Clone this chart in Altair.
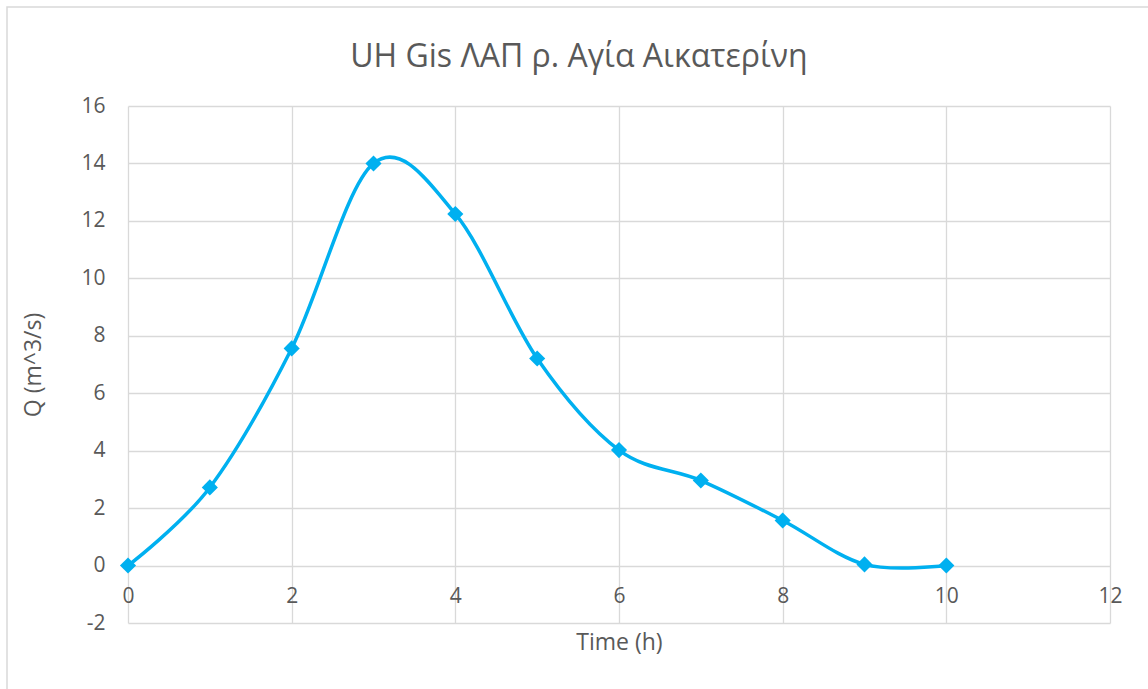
import altair as alt
import pandas as pd

time_h = [0, 1, 2, 3, 4, 5, 6, 7, 8, 9, 10]
q_m3s = [0.0, 2.72, 7.56, 14.0, 12.24, 7.21, 4.02, 2.96, 1.57, 0.04, 0.0]
x_ticks = [0, 2, 4, 6, 8, 10, 12]
y_ticks = [-2, 0, 2, 4, 6, 8, 10, 12, 14, 16]
title_text = "UH Gis ΛΑΠ ρ. Αγία Αικατερίνη"

df = pd.DataFrame({"t": time_h, "q": q_m3s})

FONT = "Open Sans"
TXT = "#595959"
GRID = "#D9D9D9"
BLUE = "#00B0F0"

W, H = 982, 517

x = alt.X("t:Q", scale=alt.Scale(domain=[0, 12], nice=False, zero=False),
          axis=alt.Axis(values=x_ticks, title="Time (h)", grid=True, gridColor=GRID,
                        gridWidth=1.3, domain=False, ticks=False, tickSize=0,
                        labelFlush=False, labelExpr="'' + datum.value",
                        labelPadding=-38, labelFontSize=21, labelColor=TXT, labelFont=FONT,
                        titleFontSize=23, titleColor=TXT, titleFont=FONT,
                        titleFontWeight="normal", titleY=8, titleBaseline="top"))
y = alt.Y("q:Q", scale=alt.Scale(domain=[-2, 16], nice=False, zero=False),
          axis=alt.Axis(values=y_ticks, title="Q (m^3/s)", grid=True, gridColor=GRID,
                        gridWidth=1.3, domain=False, ticks=False, tickSize=0,
                        labelFlush=False, labelExpr="'' + datum.value",
                        labelPadding=23, labelFontSize=21, labelColor=TXT, labelFont=FONT,
                        titleFontSize=23, titleColor=TXT, titleFont=FONT,
                        titleFontWeight="normal", titlePadding=35))

line = alt.Chart(df).mark_line(interpolate="cardinal", color=BLUE, strokeWidth=3.5).encode(x=x, y=y)
pts = alt.Chart(df).mark_point(shape="diamond", filled=True, color=BLUE, size=260, opacity=1).encode(x=x, y=y)

one = pd.DataFrame({"a": [0]})
border = alt.Chart(one).mark_rect(
    fill=None, stroke=GRID, strokeWidth=1.5
).encode(x=alt.value(-121), x2=alt.value(1148 - 128 + 20),
         y=alt.value(-99), y2=alt.value(689 - 106 + 20))

title = alt.Chart(one).mark_text(
    font=FONT, fontSize=32, color=TXT, align="center", baseline="alphabetic"
).encode(x=alt.value(579 - 128), y=alt.value(67 - 106), text=alt.value(title_text))

chart = alt.layer(border, line, pts, title).properties(
    width=W, height=H,
    padding={"left": 128, "top": 106, "right": 38, "bottom": 66},
    autosize=alt.AutoSizeParams(type="none"),
    background="white",
).configure_view(stroke=None)

chart.save("out.html", embed_options={"renderer": "svg", "actions": False})
